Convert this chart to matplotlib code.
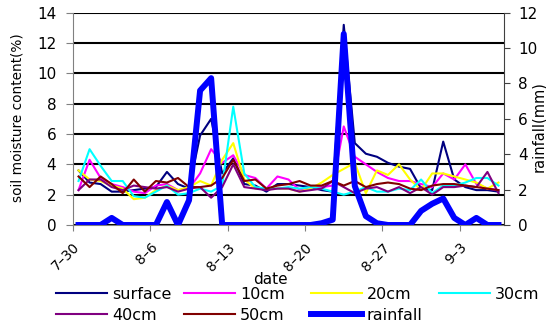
import numpy as np
import pandas as pd
import matplotlib
matplotlib.use("Agg")
import matplotlib.pyplot as plt
import matplotlib.transforms as mtransforms

plt.rcParams['font.family'] = ['DejaVu Sans']

# daily values, 7-30 .. 9-6
dates = pd.date_range("2008-07-30", periods=39, freq="D")

surface = [3.6, 2.8, 2.7, 2.2, 2.2, 2.3, 2.4, 2.5, 3.5, 2.7, 2.4, 5.9, 7.0, 3.4, 4.4, 2.7, 2.6, 2.2, 2.7, 2.7,
           2.6, 2.5, 2.3, 2.2, 13.2, 5.4, 4.7, 4.5, 4.1, 3.85, 3.7, 2.4, 2.3, 5.5, 3.0, 2.5, 2.3, 2.3, 2.2]
cm10 = [2.3, 4.3, 3.1, 2.7, 2.5, 2.2, 2.1, 2.6, 2.7, 2.3, 2.4, 3.4, 5.0, 4.1, 4.6, 3.3, 3.1, 2.4, 3.2, 3.0,
        2.3, 2.5, 2.5, 2.6, 6.5, 4.5, 4.0, 3.5, 3.1, 2.9, 2.9, 2.7, 2.5, 3.4, 3.0, 4.0, 2.7, 2.4, 2.3]
cm20 = [3.6, 3.0, 2.9, 2.6, 2.4, 1.7, 1.8, 2.3, 2.6, 2.3, 2.5, 2.9, 2.6, 4.3, 5.4, 3.0, 2.4, 2.4, 2.4, 2.4,
        2.2, 2.4, 2.8, 3.3, 3.7, 4.1, 2.1, 3.6, 3.3, 4.0, 3.0, 2.3, 3.4, 3.4, 3.2, 3.0, 2.8, 2.4, 2.8]
cm30 = [2.9, 5.0, 3.9, 2.9, 2.9, 1.9, 1.8, 2.2, 2.6, 2.0, 2.1, 2.4, 2.2, 2.6, 7.8, 3.4, 2.5, 2.4, 2.4, 2.5,
        2.4, 2.5, 2.4, 2.2, 2.0, 2.2, 2.5, 2.2, 2.2, 2.4, 2.3, 3.0, 2.1, 2.6, 2.6, 2.8, 3.1, 3.1, 2.6]
cm40 = [2.3, 3.0, 3.0, 2.5, 2.3, 2.6, 2.5, 2.4, 2.5, 2.2, 2.4, 2.5, 1.8, 2.5, 4.0, 2.5, 2.4, 2.3, 2.4, 2.4,
        2.2, 2.3, 2.4, 2.9, 2.5, 2.1, 2.4, 2.5, 2.2, 2.5, 2.1, 2.5, 2.0, 2.5, 2.5, 2.6, 2.5, 3.5, 2.1]
cm50 = [3.2, 2.5, 3.2, 2.7, 2.1, 3.0, 2.2, 2.9, 2.8, 3.1, 2.5, 2.5, 2.6, 3.1, 4.3, 2.9, 3.0, 2.4, 2.6, 2.7,
        2.9, 2.6, 2.6, 2.9, 2.6, 2.9, 2.5, 2.7, 2.8, 2.7, 2.4, 2.3, 2.6, 2.7, 2.7, 2.6, 2.5, 2.4, 2.3]
rainfall = [0, 0, 0, 0.4, 0, 0, 0, 0, 1.3, 0, 1.4, 7.6, 8.3, 0, 0, 0, 0, 0, 0, 0,
            0, 0, 0.1, 0.3, 10.8, 2.2, 0.5, 0.1, 0, 0, 0, 0.8, 1.2, 1.5, 0.4, 0, 0.4, 0, 0]

tick_dates = pd.date_range("2008-07-30", periods=6, freq="7D")
tick_labels = ["7–30", "8–6", "8–13", "8–20", "8–27", "9–3"]

series = [("surface", surface, "#000080"),
          ("10cm", cm10, "#FF00FF"),
          ("20cm", cm20, "#FFFF00"),
          ("30cm", cm30, "#00FFFF"),
          ("40cm", cm40, "#800080"),
          ("50cm", cm50, "#800000")]

fig = plt.figure(figsize=(5.46, 3.23), dpi=100)
ax = fig.add_axes([73/546, 1-225/323, (504-73)/546, (225-12.7)/323])

# points sit in the middle of each day
x = dates + pd.Timedelta(hours=12)

handles = {}
for name, vals, col in series:
    ln, = ax.plot(x, vals, color=col, lw=1.5)
    handles[name] = ln

ax.set_ylim(0, 14)
ax.set_yticks(np.arange(0, 15, 2))
ax.set_xlim(dates[0], dates[-1] + pd.Timedelta(days=1))
ax.set_xticks(tick_dates)
ax.set_xticklabels(tick_labels, rotation=45, ha='right', rotation_mode='anchor')
shift = mtransforms.ScaledTranslation(-8/72, 0, fig.dpi_scale_trans)
for lab in ax.get_xticklabels():
    lab.set_transform(lab.get_transform() + shift)
ax.yaxis.grid(True, color='black', lw=1.5)
ax.set_axisbelow(True)
for s in ['top', 'right']:
    ax.spines[s].set_visible(False)
for s in ['left', 'bottom']:
    ax.spines[s].set_color('#808080')
ax.tick_params(axis='y', length=5, color='#808080', labelsize=11, pad=7)
ax.tick_params(axis='x', length=4, color='#808080', labelsize=10, pad=7)

ax2 = ax.twinx()
rl, = ax2.plot(x, rainfall, color='#0000FF', lw=4.3)
handles["rainfall"] = rl
ax2.set_ylim(0, 12)
ax2.set_yticks(np.arange(0, 13, 2))
for s in ['top', 'left', 'bottom']:
    ax2.spines[s].set_visible(False)
ax2.spines['right'].set_color('#404040')
ax2.tick_params(axis='y', length=4, color='#404040', labelsize=11, pad=6)

fig.text(18/546, 1-118/323, "soil moisture content(%)", rotation=90, ha='center', va='center', fontsize=9.8)
fig.text(539/546, 1-127/323, "rainfall(mm)", rotation=90, ha='center', va='center', fontsize=10.5)
fig.text(270/546, 1-279/323, "date", ha='center', va='center', fontsize=11)

# legend: four evenly spaced columns, as in the original
columns = [["surface", "40cm"], ["10cm", "50cm"], ["20cm", "rainfall"], ["30cm"]]
col_x = [56, 184, 311, 439]
for names, cx in zip(columns, col_x):
    fig.legend([handles[k] for k in names], names, loc='upper left',
               bbox_to_anchor=(cx/546, 1-287/323), frameon=False, fontsize=11.5,
               handlelength=3.2, handletextpad=0.3, labelspacing=0.35,
               borderpad=0, borderaxespad=0)

fig.savefig("out.png", dpi=100)
